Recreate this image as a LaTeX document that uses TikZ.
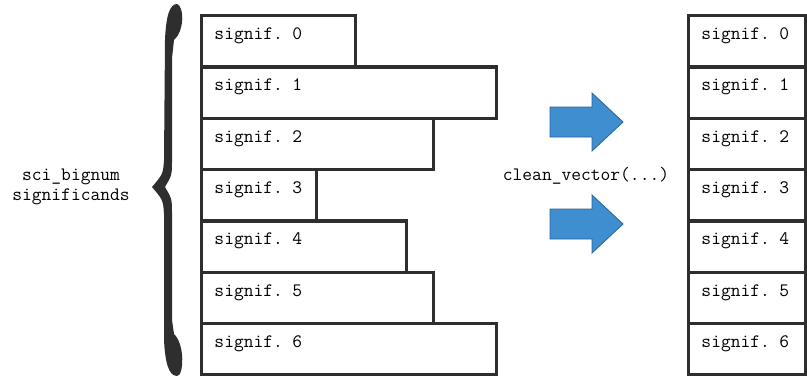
\documentclass[tikz,border=0pt]{standalone}
\usepackage{xcolor}
\usepackage{fontspec}
\usepackage{tikz}
\newcommand{\codefont}{\ttfamily\fontsize{13.5pt}{14.2pt}\selectfont}
\definecolor{boxline}{HTML}{2E2E2E}
\definecolor{arrowfill}{HTML}{3E8ED0}
\definecolor{arrowline}{HTML}{2C6699}

\begin{document}
\begin{tikzpicture}[
    sig/.style={draw=boxline,line width=2.4pt,rectangle,anchor=north west,
      inner xsep=0.32cm,inner ysep=0pt,text height=0.6cm,text depth=0.6825cm,
      align=left,font=\codefont},
    bigarrow/.style={fill=arrowfill,draw=arrowline,line width=0.6pt,line join=miter}]
    \useasboundingbox (0,0) rectangle (20.175,-9.425);

    \node[font=\codefont,align=center,anchor=north,inner sep=0pt] (lbl) at (1.775,-4.21) {sci\_bignum\\significands};
    \fill[boxline] (4.425,-0.1) .. controls (4.6,-0.15) and (4.625,-0.75) .. (4.35,-1.0)
        -- (4.3,-1.45) -- (4.3,-4.0) .. controls (4.3,-4.375) .. (4.125,-4.675)
        .. controls (4.3,-4.975) .. (4.3,-5.35) -- (4.3,-8.0) -- (4.35,-8.35)
        .. controls (4.625,-8.6) and (4.6,-9.4) .. (4.425,-9.4)
        .. controls (4.2,-9.4) and (4.125,-9.0) .. (4.1,-8.5)
        -- (4.1,-5.35) .. controls (4.075,-5.0) .. (3.8,-4.675)
        .. controls (4.075,-4.35) .. (4.1,-4.0) -- (4.125,-1.0)
        .. controls (4.15,-0.375) and (4.25,-0.1) .. cycle;

    \node[sig,text width=3.1975cm] (l0) at (5,-0.35) {signif. 0};
    \node[sig,text width=6.735cm] (l1) at (5,-1.6325) {signif. 1};
    \node[sig,text width=5.1475cm] (l2) at (5,-2.915) {signif. 2};
    \node[sig,text width=2.235cm] (l3) at (5,-4.1975) {signif. 3};
    \node[sig,text width=4.485cm] (l4) at (5,-5.48) {signif. 4};
    \node[sig,text width=5.1475cm] (l5) at (5,-6.7625) {signif. 5};
    \node[sig,text width=6.735cm] (l6) at (5,-8.045) {signif. 6};

    \draw[bigarrow] (13.75,-2.675) -- (14.8,-2.675) -- (14.8,-2.325) -- (15.575,-3.05)
        -- (14.8,-3.775) -- (14.8,-3.425) -- (13.75,-3.425) -- cycle;
    \node[font=\codefont,anchor=base,inner sep=0pt] (fn) at (14.65,-4.5) {clean\_vector(...)};
    \draw[bigarrow] (13.75,-5.225) -- (14.8,-5.225) -- (14.8,-4.875) -- (15.575,-5.6)
        -- (14.8,-6.325) -- (14.8,-5.975) -- (13.75,-5.975) -- cycle;

    \node[sig,text width=2.2725cm] (r0) at (17.175,-0.35) {signif. 0};
    \node[sig,text width=2.2725cm] (r1) at (17.175,-1.6325) {signif. 1};
    \node[sig,text width=2.2725cm] (r2) at (17.175,-2.915) {signif. 2};
    \node[sig,text width=2.2725cm] (r3) at (17.175,-4.1975) {signif. 3};
    \node[sig,text width=2.2725cm] (r4) at (17.175,-5.48) {signif. 4};
    \node[sig,text width=2.2725cm] (r5) at (17.175,-6.7625) {signif. 5};
    \node[sig,text width=2.2725cm] (r6) at (17.175,-8.045) {signif. 6};
\end{tikzpicture}
\end{document}
